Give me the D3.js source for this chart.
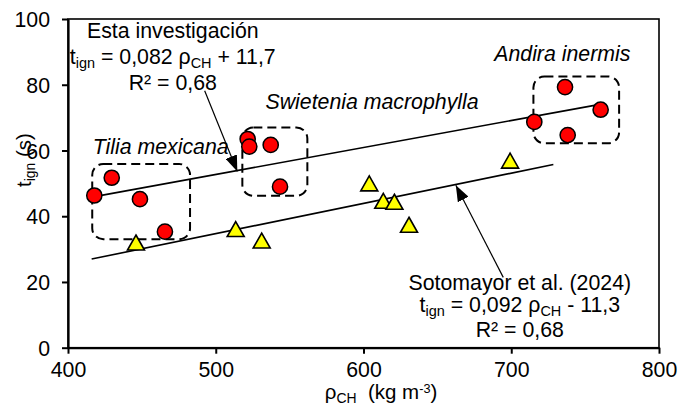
<!DOCTYPE html>
<html>
<head>
<meta charset="utf-8">
<script src="https://cdn.jsdelivr.net/npm/d3@7"></script>
<style>
  html, body { margin: 0; padding: 0; background: #fff; }
  svg text { font-family: "Liberation Sans", Arial, sans-serif; fill: #000; white-space: pre; }
</style>
</head>
<body>
<svg id="chart" width="678" height="406"></svg>
<script>
// Density of charcoal (kg m-3) vs ignition time (s)
const xTicks = [400, 500, 600, 700, 800];
const yTicks = [0, 20, 40, 60, 80, 100];

// This study, grouped by species
const tiliaRho = [417.8, 429.6, 448.7, 465.6];
const tiliaT   = [46.3, 51.7, 45.2, 35.3];
const swieteniaRho = [521.6, 522.7, 537.2, 543.5];
const swieteniaT   = [63.5, 61.2, 61.7, 49.0];
const andiraRho = [715.6, 736.4, 738.2, 760.5];
const andiraT   = [68.7, 79.3, 64.7, 72.4];

// Sotomayor et al. (2024)
const sotoRho = [446.0, 513.5, 531.1, 603.9, 613.4, 620.9, 630.8, 699.2];
const sotoT   = [32.0, 36.1, 32.6, 50.0, 44.7, 44.4, 37.4, 56.9];

// Fitted lines: slope, intercept and x-range
const fitThis = { a: 0.082, b: 11.7, x0: 417, x1: 760 };
const fitSoto = { a: 0.092, b: -11.3, x0: 416, x1: 728.5 };

// Species group boxes [xmin, xmax, ymin, ymax]
const groupBoxes = [
  [416.4, 482.6, 33.0, 55.9],
  [518.0, 562.0, 46.2, 67.0],
  [715.0, 773.0, 62.2, 82.5]
];
const groupNames = ["Tilia mexicana", "Swietenia macrophylla", "Andira inermis"];

const W = 678, H = 406;
const margin = { left: 68, right: 19, top: 19, bottom: 58.3 };
const svg = d3.select("#chart");

const x = d3.scaleLinear().domain([400, 800]).range([margin.left, W - margin.right]);
const y = d3.scaleLinear().domain([0, 100]).range([H - margin.bottom, margin.top]);

const FS = 21.3;

// plot frame
svg.append("rect")
  .attr("x", x(400)).attr("y", y(100))
  .attr("width", x(800) - x(400)).attr("height", y(0) - y(100))
  .attr("fill", "none").attr("stroke", "#000").attr("stroke-width", 1.6);

// axes
const gx = svg.append("g").attr("transform", `translate(0,${y(0)})`)
  .call(d3.axisBottom(x).tickValues(xTicks).tickSize(6).tickPadding(8).tickSizeOuter(0));
const gy = svg.append("g").attr("transform", `translate(${x(400)},0)`)
  .call(d3.axisLeft(y).tickValues(yTicks).tickSize(6).tickPadding(12).tickSizeOuter(0));
[gx, gy].forEach(g => {
  g.select(".domain").attr("stroke", "#000").attr("stroke-width", 2.2);
  g.selectAll(".tick line").attr("stroke", "#000").attr("stroke-width", 2);
  g.selectAll(".tick text").attr("font-size", FS).attr("font-family", "Liberation Sans, Arial, sans-serif").attr("fill", "#000");
});
gy.selectAll(".tick text").attr("dy", "0.36em");

// helper: text with sub/superscripts; parts = [[str, kind], ...]
function richText(g, parts, px, py, anchor, opts = {}) {
  const size = opts.size || FS;
  const t = g.append("text")
    .attr("x", px).attr("y", py)
    .attr("text-anchor", anchor)
    .attr("font-size", size);
  if (opts.italic) t.attr("font-style", "italic");
  if (opts.rotate) t.attr("transform", `rotate(${opts.rotate},${px},${py})`);
  parts.forEach(([s, kind]) => {
    const ts = t.append("tspan").text(s);
    if (kind === "sub") ts.attr("font-size", size * 0.68).attr("baseline-shift", "-28%");
    if (kind === "sup") ts.attr("font-size", size * 0.62).attr("baseline-shift", "45%");
  });
  return t;
}

// axis titles
richText(svg, [["ρ"], ["CH", "sub"], ["  (kg m"], ["-3", "sup"], [")"]], 381, 399, "middle", { size: 20.5 });
richText(svg, [["t"], ["ign", "sub"], [" (s)"]], 31, 160, "middle", { rotate: -90, size: 20.5 });

// group boxes
svg.append("g").selectAll("rect").data(groupBoxes).join("rect")
  .attr("x", d => x(d[0])).attr("y", d => y(d[3]))
  .attr("width", d => x(d[1]) - x(d[0])).attr("height", d => y(d[2]) - y(d[3]))
  .attr("rx", 11).attr("ry", 11)
  .attr("fill", "none").attr("stroke", "#000").attr("stroke-width", 2)
  .attr("stroke-dasharray", "9,5");

// fitted lines
[fitThis, fitSoto].forEach(f => {
  svg.append("line")
    .attr("x1", x(f.x0)).attr("y1", y(f.a * f.x0 + f.b))
    .attr("x2", x(f.x1)).attr("y2", y(f.a * f.x1 + f.b))
    .attr("stroke", "#000").attr("stroke-width", 1.6);
});

// points: this study
const redPts = [
  ...tiliaRho.map((r, i) => [r, tiliaT[i]]),
  ...swieteniaRho.map((r, i) => [r, swieteniaT[i]]),
  ...andiraRho.map((r, i) => [r, andiraT[i]])
];
svg.append("g").selectAll("circle").data(redPts).join("circle")
  .attr("cx", d => x(d[0])).attr("cy", d => y(d[1])).attr("r", 7.6)
  .attr("fill", "#ff0000").attr("stroke", "#000").attr("stroke-width", 1.5);

// points: Sotomayor et al.
const tw = 17, th = 15;
svg.append("g").selectAll("path").data(sotoRho.map((r, i) => [r, sotoT[i]])).join("path")
  .attr("d", `M0,${-th / 2}L${tw / 2},${th / 2}L${-tw / 2},${th / 2}Z`)
  .attr("transform", d => `translate(${x(d[0])},${y(d[1])})`)
  .attr("fill", "#ffff00").attr("stroke", "#000").attr("stroke-width", 1.6)
  .attr("stroke-linejoin", "miter");

// species names, positioned by their left edge (data units)
const namePos = [[416.7, 59.0], [533.7, 72.7], [688.5, 87.3]];
groupNames.forEach((n, i) => {
  richText(svg, [[n]], x(namePos[i][0]), y(namePos[i][1]), "start", { italic: true });
});

// equation blocks
const cx1 = x(470.9);
richText(svg, [["Esta investigación"]], cx1, y(94.2), "middle");
richText(svg, [["t"], ["ign", "sub"], [" = 0,082 ρ"], ["CH", "sub"], [" + 11,7"]], cx1, y(86.4), "middle");
richText(svg, [["R² = 0,68"]], cx1, y(78.4), "middle");

const cx2 = x(705.8);
richText(svg, [["Sotomayor et al. (2024)"]], cx2, y(17.6), "middle");
richText(svg, [["t"], ["ign", "sub"], [" = 0,092 ρ"], ["CH", "sub"], [" - 11,3"]], cx2, y(10.8), "middle");
richText(svg, [["R² = 0,68"]], cx2, y(3.2), "middle");

// arrows from equations to their lines
const defs = svg.append("defs");
defs.append("marker").attr("id", "head")
  .attr("markerUnits", "userSpaceOnUse")
  .attr("viewBox", "0 0 16 12").attr("refX", 16).attr("refY", 6)
  .attr("markerWidth", 16).attr("markerHeight", 12).attr("orient", "auto")
  .append("path").attr("d", "M0,0L16,6L0,12Z").attr("fill", "#000");

const arrows = [
  [[492.5, 78.2], [514.6, 53.6]],
  [[694.6, 21.4], [662.5, 49.4]]
];
arrows.forEach(([a, b]) => {
  svg.append("line")
    .attr("x1", x(a[0])).attr("y1", y(a[1]))
    .attr("x2", x(b[0])).attr("y2", y(b[1]))
    .attr("stroke", "#000").attr("stroke-width", 1.2)
    .attr("marker-end", "url(#head)");
});
</script>
</body>
</html>
